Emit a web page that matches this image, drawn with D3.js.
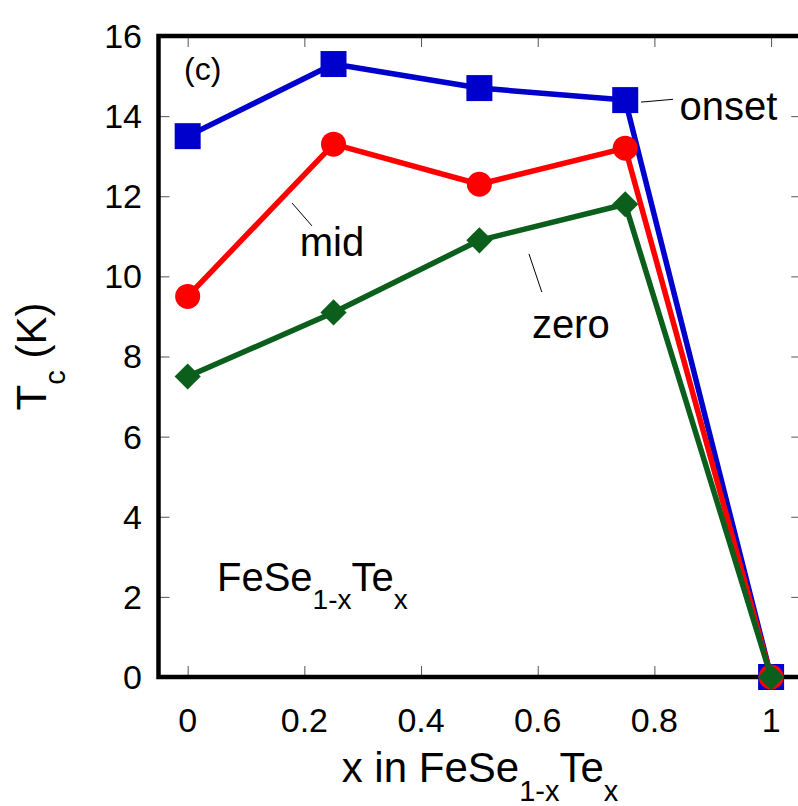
<!DOCTYPE html>
<html><head><meta charset="utf-8">
<script src="https://cdn.jsdelivr.net/npm/d3@7"></script>
<style>
html,body{margin:0;padding:0;background:#fff;overflow:hidden}
text{font-family:"Liberation Sans",Arial,Helvetica,sans-serif;fill:#000}
</style></head>
<body><svg id="c" width="798" height="806"></svg>
<script>
const xValues = [0, 0.25, 0.5, 0.75, 1];
const onset = [13.5, 15.3, 14.7, 14.4, 0];
const mid = [9.5, 13.3, 12.3, 13.2, 0];
const zero = [7.5, 9.1, 10.9, 11.8, 0];
const xTicks = [0, 0.2, 0.4, 0.6, 0.8, 1];
const xTickLabels = ["0", "0.2", "0.4", "0.6", "0.8", "1"];
const yTicks = [0, 2, 4, 6, 8, 10, 12, 14, 16];
const yTickLabels = ["0", "2", "4", "6", "8", "10", "12", "14", "16"];
// annotation labels: [text, labelX, labelY, lineX1, lineY1, lineX2, lineY2] in data units
const annotations = [
  ["onset", 0.843, 13.9, 0.777, 14.35, 0.832, 14.42],
  ["mid", 0.192, 10.5, 0.179, 11.83, 0.213, 11.26],
  ["zero", 0.59, 8.46, 0.585, 10.56, 0.607, 9.61]
];

const svg = d3.select("#c");
const x = d3.scaleLinear().domain([-0.05, 1.0535]).range([158.5, 802.3]);
const y = d3.scaleLinear().domain([0, 16]).range([677, 36]);
const xL = x.domain()[0], xR = x.domain()[1];

const g = svg.append("g");
const tickCol = "#555";
const tk = 11;
function styleAxis(a) { a.select(".domain").remove(); a.selectAll("line").attr("stroke", tickCol); }
g.append("g").attr("transform", `translate(0,${y(0)})`)
  .call(d3.axisBottom(x).tickValues(xTicks).tickSizeInner(-tk).tickSizeOuter(0).tickFormat(""))
  .call(styleAxis);
g.append("g").attr("transform", `translate(0,${y(16)})`)
  .call(d3.axisTop(x).tickValues(xTicks).tickSizeInner(-tk).tickSizeOuter(0).tickFormat(""))
  .call(styleAxis);
g.append("g").attr("transform", `translate(${x(xL)},0)`)
  .call(d3.axisLeft(y).tickValues(yTicks).tickSizeInner(-tk).tickSizeOuter(0).tickFormat(""))
  .call(styleAxis);
g.append("g").attr("transform", `translate(${x(xR)},0)`)
  .call(d3.axisRight(y).tickValues(yTicks).tickSizeInner(-tk).tickSizeOuter(0).tickFormat(""))
  .call(styleAxis);

// axis frame
g.append("rect").attr("x", x(xL)).attr("y", y(16)).attr("width", x(xR) - x(xL)).attr("height", y(0) - y(16))
  .attr("fill", "none").attr("stroke", "#000").attr("stroke-width", 4.5);

// tick labels
g.selectAll(".xl").data(xTicks).enter().append("text")
  .attr("x", d => x(d)).attr("y", 732).attr("text-anchor", "middle").attr("font-size", 34)
  .text((d, i) => xTickLabels[i]);
g.selectAll(".yl").data(yTicks).enter().append("text")
  .attr("x", 142).attr("y", d => y(d)).attr("dy", "0.35em").attr("text-anchor", "end").attr("font-size", 34)
  .text((d, i) => yTickLabels[i]);

// axis titles
const xt = g.append("text").attr("x", 480).attr("y", 782).attr("text-anchor", "middle").attr("font-size", 42);
xt.append("tspan").text("x in FeSe");
xt.append("tspan").attr("font-size", 29).attr("dy", 19).text("1-x");
xt.append("tspan").attr("dy", -19).text("Te");
xt.append("tspan").attr("font-size", 29).attr("dy", 19).text("x");

const yt = g.append("text").attr("transform", `translate(46,${(y(0) + y(16)) / 2}) rotate(-90)`).attr("text-anchor", "middle").attr("font-size", 42);
yt.append("tspan").text("T");
yt.append("tspan").attr("font-size", 29).attr("dy", 19).text("c");
yt.append("tspan").attr("dy", -19).text(" (K)");

// panel labels
g.append("text").attr("x", 184).attr("y", 80).attr("font-size", 32).text("(c)");
const fe = g.append("text").attr("x", 217).attr("y", 591).attr("font-size", 40);
fe.append("tspan").text("FeSe");
fe.append("tspan").attr("font-size", 28).attr("dy", 18).text("1-x");
fe.append("tspan").attr("dy", -18).text("Te");
fe.append("tspan").attr("font-size", 28).attr("dy", 18).text("x");

// annotations
annotations.forEach(a => {
  g.append("line").attr("x1", x(a[3])).attr("y1", y(a[4])).attr("x2", x(a[5])).attr("y2", y(a[6]))
    .attr("stroke", "#000").attr("stroke-width", 1);
  g.append("text").attr("x", x(a[1])).attr("y", y(a[2])).attr("font-size", 40).text(a[0]);
});

// series
const series = [
  { name: "onset", values: onset, color: "#0000cc", shape: "square" },
  { name: "mid", values: mid, color: "#ff0000", shape: "circle" },
  { name: "zero", values: zero, color: "#0b5e1b", shape: "diamond" }
];
const line = d3.line().x(d => x(d[0])).y(d => y(d[1]));
const sym = {
  square: d3.symbol().type(d3.symbolSquare).size(26 * 26),
  circle: d3.symbol().type(d3.symbolCircle).size(Math.PI * 12.5 * 12.5),
  diamond: d3.symbol().type(d3.symbolSquare).size(18.5 * 18.5)
};
series.forEach(s => {
  const pts = xValues.map((xv, i) => [xv, s.values[i]]);
  g.append("path").datum(pts).attr("d", line).attr("fill", "none")
    .attr("stroke", s.color).attr("stroke-width", 5.5).attr("stroke-linejoin", "round");
  g.selectAll(null).data(pts).enter().append("path")
    .attr("d", sym[s.shape]())
    .attr("transform", d => `translate(${x(d[0])},${y(d[1])})` + (s.shape === "diamond" ? " rotate(45)" : ""))
    .attr("fill", s.color);
});
</script></body></html>
